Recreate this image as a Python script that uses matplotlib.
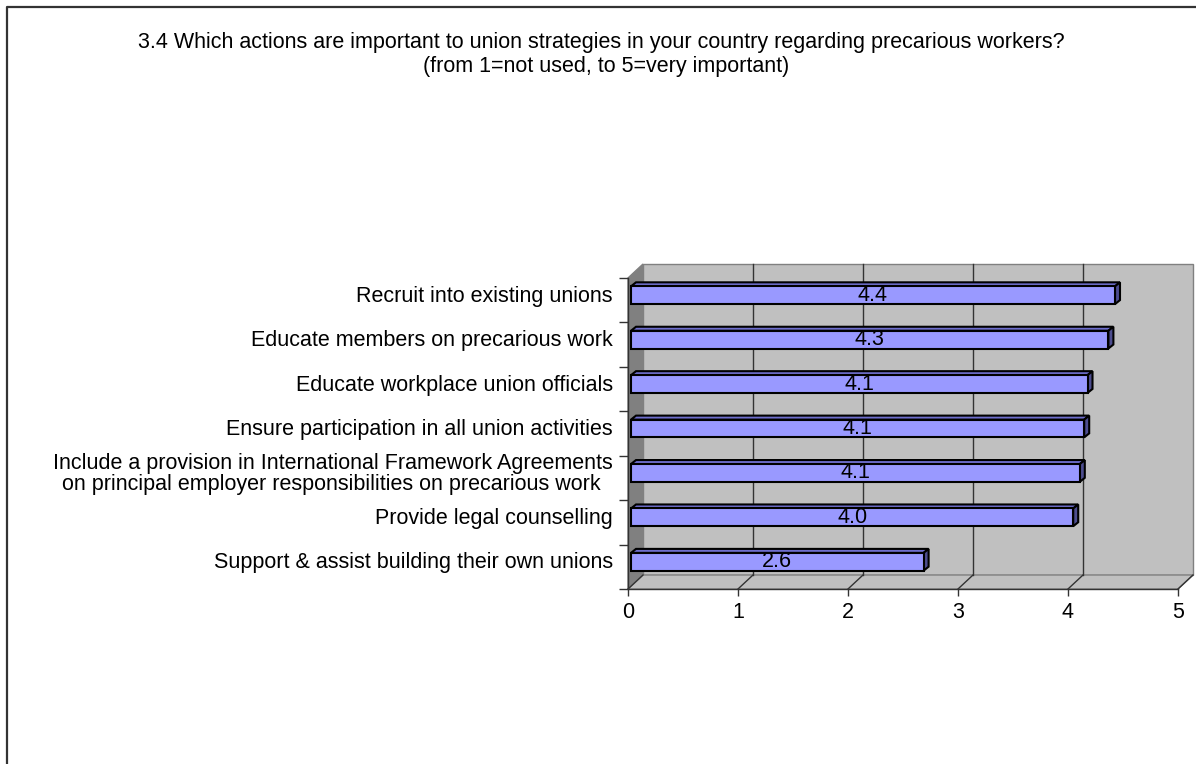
import matplotlib
matplotlib.use("Agg")
import matplotlib.pyplot as plt
from matplotlib.patches import Rectangle, Polygon
from matplotlib.transforms import ScaledTranslation, blended_transform_factory
from matplotlib.lines import Line2D

plt.rcParams['font.family'] = ['Liberation Sans', 'DejaVu Sans']

title_line1 = ("3.4 Which actions are important to union strategies in your "
               "country regarding precarious workers?")
title_line2 = "(from 1=not used, to 5=very important)"

actions = [
    "Recruit into existing unions",
    "Educate members on precarious work",
    "Educate workplace union officials",
    "Ensure participation in all union activities",
    "Include a provision in International Framework Agreements\n"
    "on principal employer responsibilities on precarious work  ",
    "Provide legal counselling",
    "Support & assist building their own unions",
]
scores = [4.40, 4.34, 4.15, 4.12, 4.08, 4.02, 2.66]
score_labels = ["4.4", "4.3", "4.1", "4.1", "4.1", "4.0", "2.6"]
x_ticks = [0, 1, 2, 3, 4, 5]

W, H = 1196, 764
fs = 15.5

fig = plt.figure(figsize=(W / 100, H / 100), dpi=100)
ax = fig.add_axes([628 / W, 1 - 589 / H, 550 / W, 311 / H])
ax.set_xlim(0, 5)
ax.set_ylim(len(actions) - 0.5, -0.5)
ax.patch.set_visible(False)


def shift(dx, dy):
    # offset in pixels (dy positive = up)
    return ScaledTranslation(dx / 100, dy / 100, fig.dpi_scale_trans)


# depth of the 3d box in axes fraction
ddx = 15 / 550
ddy = 14 / 311

# back wall, left wall, floor
ax.add_patch(Rectangle((ddx, ddy), 1, 1, transform=ax.transAxes,
                       fc='#C0C0C0', ec='#808080', lw=1, zorder=0,
                       clip_on=False))
ax.add_patch(Polygon([(0, 0), (ddx, ddy), (ddx, 1 + ddy), (0, 1)],
                     transform=ax.transAxes, fc='#808080', ec='#808080',
                     lw=1, zorder=0.5, clip_on=False))
ax.add_patch(Polygon([(0, 0), (1, 0), (1 + ddx, ddy), (ddx, ddy)],
                     transform=ax.transAxes, fc='#C0C0C0', ec='#808080',
                     lw=1, zorder=0.5, clip_on=False))

# gridlines on back wall and on the floor
grid_tr = blended_transform_factory(ax.transData, ax.transAxes) + shift(15, 14)
for k in x_ticks[1:-1]:
    ax.plot([k, k], [0, 1], color='#333333', lw=1, transform=grid_tr,
            zorder=1, clip_on=False)
for k in x_ticks:
    xa = k / 5
    ax.plot([xa, xa + ddx], [0, ddy], color='#333333', lw=1,
            transform=ax.transAxes, zorder=1, clip_on=False)

# bars with a shallow 3d face
bar_tr = ax.transData + shift(3, 5)
h = 0.4
bdx = 5 / 110
bdy = 4 / 44.4
ypos = list(range(len(actions)))
ax.barh(ypos, scores, height=h, color='#9999FF', edgecolor='black',
        lw=1.5, transform=bar_tr, zorder=3)
for y, v, lab in zip(ypos, scores, score_labels):
    top = y - h / 2
    bot = y + h / 2
    ax.add_patch(Polygon([(0, top), (v, top), (v + bdx, top - bdy),
                          (bdx, top - bdy)], transform=bar_tr,
                         fc='#6E6ECC', ec='black', lw=1.5, zorder=2.9,
                         clip_on=False))
    ax.add_patch(Polygon([(v, top), (v + bdx, top - bdy),
                          (v + bdx, bot - bdy), (v, bot)], transform=bar_tr,
                         fc='#4D4D8F', ec='black', lw=1.5, zorder=2.9,
                         clip_on=False))
    ax.text(v / 2, y, lab, ha='center', va='center', fontsize=fs,
            transform=bar_tr, zorder=4)

# category labels
lab_tr = blended_transform_factory(ax.transAxes, ax.transData) + shift(-15, 4)
for y, name in zip(ypos, actions):
    ax.text(0, y, name, ha='right', va='center', fontsize=fs,
            linespacing=1.05, transform=lab_tr)

ax.set_yticks([])
ax.set_yticks([i - 0.5 for i in range(len(actions) + 1)], minor=True)
ax.tick_params(axis='y', which='minor', length=6.5, width=1,
               color='#333333')
ax.set_xticks(x_ticks)
ax.set_xticklabels([str(t) for t in x_ticks])
ax.tick_params(axis='x', length=5, width=1, pad=4, labelsize=fs,
               color='#333333')
for s in ('top', 'right'):
    ax.spines[s].set_visible(False)
for s in ('left', 'bottom'):
    ax.spines[s].set_color('#333333')
    ax.spines[s].set_linewidth(1)
    ax.spines[s].set_zorder(5)

fig.text(601 / W, 1 - 48 / H, title_line1, ha='center', va='baseline',
         fontsize=fs)
fig.text(606 / W, 1 - 72 / H, title_line2, ha='center', va='baseline',
         fontsize=fs)

# chart border (cropped on right and bottom)
fig.add_artist(Line2D([7 / W, 7 / W, 1], [0, 1 - 7 / H, 1 - 7 / H],
                      color='#333333', lw=1.6, transform=fig.transFigure))

fig.savefig("out.png", dpi=100)
